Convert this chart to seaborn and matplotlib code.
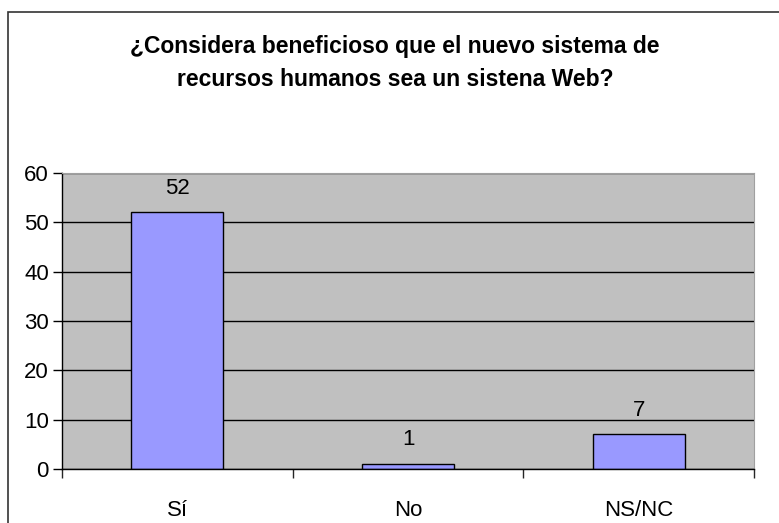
import numpy as np
import pandas as pd
import matplotlib
matplotlib.use("Agg")
import matplotlib.pyplot as plt
import seaborn as sns
from matplotlib.patches import Rectangle

# data
categorias = ["Sí", "No", "NS/NC"]
respuestas = [52, 1, 7]
titulo = ("¿Considera beneficioso que el nuevo sistema de\n"
          "recursos humanos sea un sistena Web?")

df = pd.DataFrame({"categoria": categorias, "respuestas": respuestas})

sns.set_style("white")
plt.rcParams["font.family"] = ["Liberation Sans", "DejaVu Sans"]
plt.rcParams["text.color"] = "black"

fig = plt.figure(figsize=(7.79, 5.23), dpi=100)
ax = fig.add_axes([62 / 779, 1 - 469 / 523, (754 - 62) / 779, (469 - 173) / 523])

# outer chart frame (cut by the image edge on right/bottom)
fig.patches.append(Rectangle((8 / 779, -0.05), 1.0, 1 - 12 / 523 + 0.05,
                             transform=fig.transFigure, fill=False,
                             edgecolor="#333333", linewidth=1.2))

sns.barplot(data=df, x="categoria", y="respuestas", ax=ax,
            color="#9999FF", edgecolor="black", linewidth=1.0,
            width=0.4, saturation=1)

ax.set_facecolor("#C0C0C0")
ax.set_ylim(0, 60)
ax.set_xlim(-0.5, 2.5)
ax.set_yticks(np.arange(0, 61, 10))
ax.yaxis.grid(True, color="black", linewidth=1.0)
ax.set_axisbelow(True)
ax.set_xlabel("")
ax.set_ylabel("")

for side in ["top", "right"]:
    ax.spines[side].set_color("#A0A0A0")
    ax.spines[side].set_linewidth(0.8)
for side in ["left", "bottom"]:
    ax.spines[side].set_color("black")
    ax.spines[side].set_linewidth(1.0)

ax.tick_params(axis="y", left=True, length=6.5, width=1, direction="out",
               pad=3, labelsize=16, colors="black")
ax.tick_params(axis="x", bottom=True, length=0, pad=22, labelsize=16,
               colors="black")
ax.set_xticks([-0.5, 0.5, 1.5, 2.5], minor=True)
ax.tick_params(axis="x", which="minor", bottom=True, length=6.5, width=1,
               direction="out")

ax.bar_label(ax.containers[0], labels=[str(v) for v in respuestas],
             padding=10, fontsize=16, color="black")

fig.text(395 / 779, 1 - 63 / 523, titulo, ha="center", va="center",
         fontsize=16.5, fontweight="bold", linespacing=1.5, color="black")

fig.savefig("out.png", dpi=100)
